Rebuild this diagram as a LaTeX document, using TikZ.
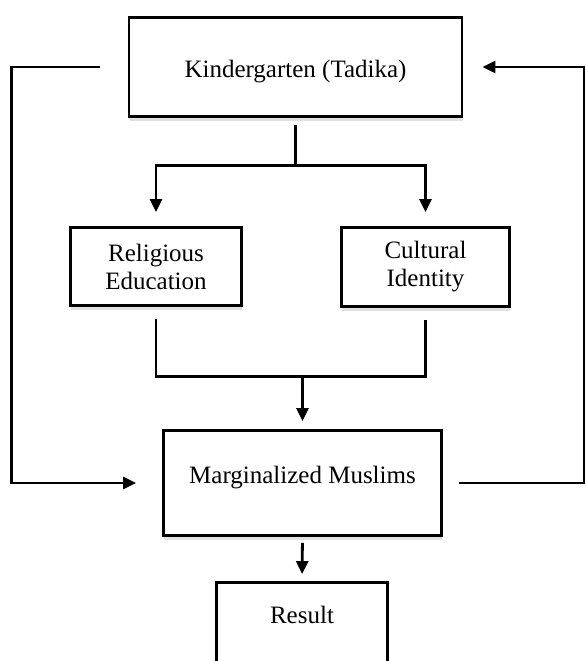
\documentclass[tikz,border=0pt]{standalone}
\usepackage{fontspec}
\setmainfont{Liberation Serif}
\usepackage{tikz}
\usetikzlibrary{arrows.meta,shadows}

\begin{document}
\begin{tikzpicture}[->,>={Triangle[length=13pt,width=12pt]},line width=2.8pt,x=1pt,y=-1pt]

		\tikzstyle{box}=[draw=black,fill=white,text=black,align=center,inner sep=2pt,
			font=\fontsize{25}{28}\selectfont,
			drop shadow={shadow xshift=0.5pt,shadow yshift=-4pt,fill=black!60,opacity=0.2}]

		\useasboundingbox (0,0) rectangle (586,661);
		\fill[white] (0,0) rectangle (586,661);

		\node[box,minimum width=333pt,minimum height=99pt,text height=21pt,text depth=0pt] (K) at (295.5,67) {Kindergarten (Tadika)};
		\node[box,minimum width=171pt,minimum height=78pt] (R) at (156,266.5) {Religious\\Education};
		\node[box,minimum width=168pt,minimum height=79pt] (C) at (425.5,267) {Cultural\\Identity};
		\node[box,minimum width=278pt,minimum height=105pt,text height=17pt,text depth=17pt] (M) at (302.5,483) {Marginalized Muslims};
		\node[box,minimum width=171pt,minimum height=100pt,text height=17pt,text depth=36pt] (Res) at (302,632.5) {Result};

		\path (K.south) ++(0,47.5) coordinate (split);
		\path (R.south) ++(0,69.5) coordinate (join);

		\draw[-,shorten <=7pt] (K.south) -- (split);
		\draw[shorten >=14pt] (split) -| (R.north);
		\draw[shorten >=14pt] (split) -| (C.north);

		\draw[-,shorten <=12pt,shorten >=12pt] (R.south) -- (join) -| (C.south);
		\draw[shorten >=8pt] (join -| M.north) -- (M.north);

		\draw[shorten <=6pt,shorten >=7pt] (M.south) -- (Res.north);

		\draw[shorten <=28pt,shorten >=26pt] (K.west) -- ++(-116,0) |- (M.west);
		\draw[shorten <=16pt,shorten >=19pt] (M.east) -- ++(141,0) |- (K.east);

	\end{tikzpicture}
\end{document}
